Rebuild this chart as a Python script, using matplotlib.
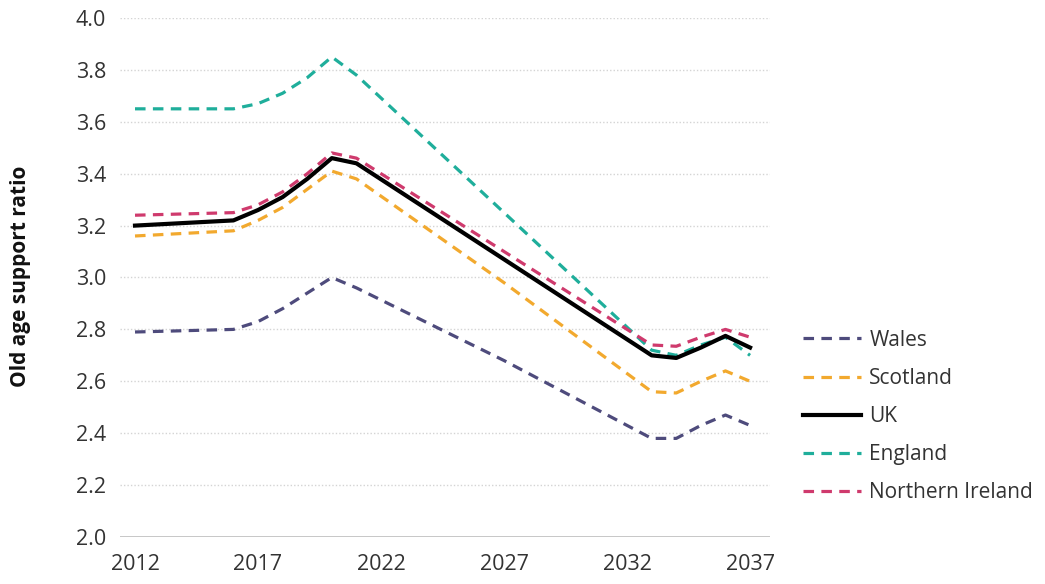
import matplotlib
matplotlib.use("Agg")
import matplotlib.pyplot as plt

plt.rcParams['font.family'] = ['Open Sans', 'DejaVu Sans']

# data (breakpoints of each line)
years = [2012, 2016, 2017, 2018, 2019, 2020, 2021, 2027, 2033, 2034, 2035, 2036, 2037]
wales = [2.79, 2.80, 2.83, 2.88, 2.94, 3.00, 2.96, 2.68, 2.38, 2.38, 2.43, 2.47, 2.43]
scotland = [3.16, 3.18, 3.22, 3.27, 3.34, 3.41, 3.38, 2.98, 2.56, 2.555, 2.60, 2.64, 2.60]
uk = [3.20, 3.22, 3.26, 3.31, 3.38, 3.46, 3.44, 3.07, 2.70, 2.69, 2.73, 2.775, 2.73]
england = [3.65, 3.65, 3.67, 3.71, 3.77, 3.85, 3.78, 3.25, 2.72, 2.70, 2.74, 2.77, 2.70]
n_ireland = [3.24, 3.25, 3.28, 3.33, 3.40, 3.48, 3.46, 3.10, 2.74, 2.735, 2.77, 2.80, 2.77]

x_ticks = [2012, 2017, 2022, 2027, 2032, 2037]
y_ticks = [2.0, 2.2, 2.4, 2.6, 2.8, 3.0, 3.2, 3.4, 3.6, 3.8, 4.0]

fig = plt.figure(figsize=(10.45, 5.84), dpi=100)
ax = fig.add_axes([120 / 1045, 47 / 584, 650 / 1045, 519 / 584])

dash = (3.3, 2.3)
ax.plot(years, wales, color='#4e4b7c', lw=2.3, dashes=dash, label='Wales')
ax.plot(years, scotland, color='#f2a92e', lw=2.3, dashes=dash, label='Scotland')
ax.plot(years, england, color='#1fae9b', lw=2.3, dashes=dash, label='England')
ax.plot(years, uk, color='black', lw=3.0, label='UK', zorder=3)
ax.plot(years, n_ireland, color='#cf3a6d', lw=2.3, dashes=dash, label='Northern Ireland')

ax.set_xlim(2011.39, 2037.81)
ax.set_ylim(2.0, 4.0)
ax.set_xticks(x_ticks)
ax.set_yticks(y_ticks)
ax.set_yticklabels([f'{v:.1f}' for v in y_ticks])

# dotted grid, solid base line
for v in y_ticks[1:]:
    ax.axhline(v, color='#d4d4d4', lw=1.0, ls=(0, (1, 1.5)), zorder=0)
ax.axhline(2.0, color='#bdbdbd', lw=1.2, zorder=0)

for s in ax.spines.values():
    s.set_visible(False)
ax.tick_params(length=0, labelsize=15.5, labelcolor='#333333')
ax.tick_params(axis='x', pad=12)
ax.tick_params(axis='y', pad=10)

fig.text(21 / 1045, 0.527, 'Old age support ratio', rotation=90, ha='center',
         va='center', fontsize=15, fontweight='bold', color='#111111')

handles, labels = ax.get_legend_handles_labels()
order = ['Wales', 'Scotland', 'UK', 'England', 'Northern Ireland']
h = [handles[labels.index(o)] for o in order]
fig.legend(h, order, loc='upper left', bbox_to_anchor=(784 / 1045, 1 - 311 / 584),
           frameon=False, fontsize=15, handlelength=2.8, labelspacing=0.82,
           handletextpad=0.4, labelcolor='#333333')

fig.savefig('out.png', dpi=100)
